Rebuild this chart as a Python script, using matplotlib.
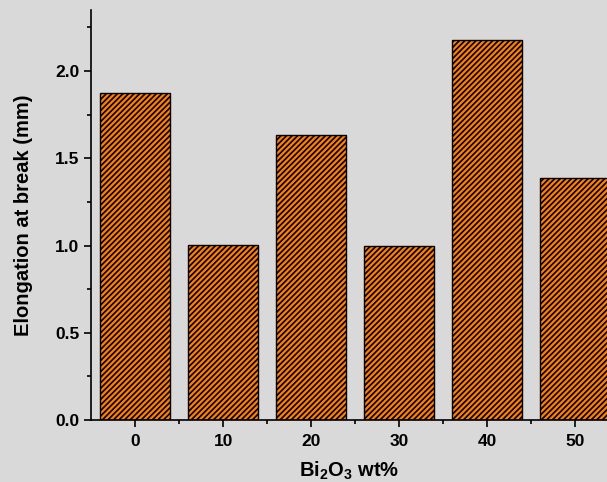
import matplotlib.pyplot as plt
import matplotlib as mpl

# Bi2O3 content and elongation at break
wt_pct = [0, 10, 20, 30, 40, 50]
elongation = [1.874, 1.003, 1.633, 0.997, 2.178, 1.387]

plt.rcParams['font.family'] = ['Liberation Sans', 'DejaVu Sans']
plt.rcParams['font.weight'] = 'bold'
plt.rcParams['mathtext.fontset'] = 'custom'
plt.rcParams['mathtext.rm'] = 'Liberation Sans:bold'
plt.rcParams['mathtext.bf'] = 'Liberation Sans:bold'
plt.rcParams['hatch.linewidth'] = 1.2

bg = '#d9d9d9'
fig = plt.figure(figsize=(6.07, 4.82), dpi=100, facecolor=bg)
ax = fig.add_axes([0.15, 0.1286, 0.85, 0.8506])
ax.set_facecolor(bg)

ax.bar(wt_pct, elongation, width=8, color='#ff8000', edgecolor='black',
       hatch='//////', linewidth=1)

ax.set_xlim(-5, 53.6)
ax.set_ylim(0, 2.35)
ax.set_xticks(wt_pct)
ax.set_xticks([5, 15, 25, 35, 45], minor=True)
ax.set_yticks([0.0, 0.5, 1.0, 1.5, 2.0])
ax.set_yticks([0.25, 0.75, 1.25, 1.75, 2.25], minor=True)
ax.yaxis.set_major_formatter(mpl.ticker.FormatStrFormatter('%.1f'))

for s in ['top', 'right']:
    ax.spines[s].set_visible(False)
for s in ['left', 'bottom']:
    ax.spines[s].set_linewidth(1.2)

ax.tick_params(which='major', length=5, width=1.2, labelsize=12.5)
ax.tick_params(axis='x', which='major', pad=5)
ax.tick_params(which='minor', length=3, width=1.2)

ax.set_ylabel('Elongation at break (mm)', fontsize=14.5, fontweight='bold', labelpad=16)
ax.set_xlabel(r'Bi$_2$O$_3$ wt%', fontsize=14.5, fontweight='bold', labelpad=8)

fig.savefig('out.png', dpi=100, facecolor=bg)
